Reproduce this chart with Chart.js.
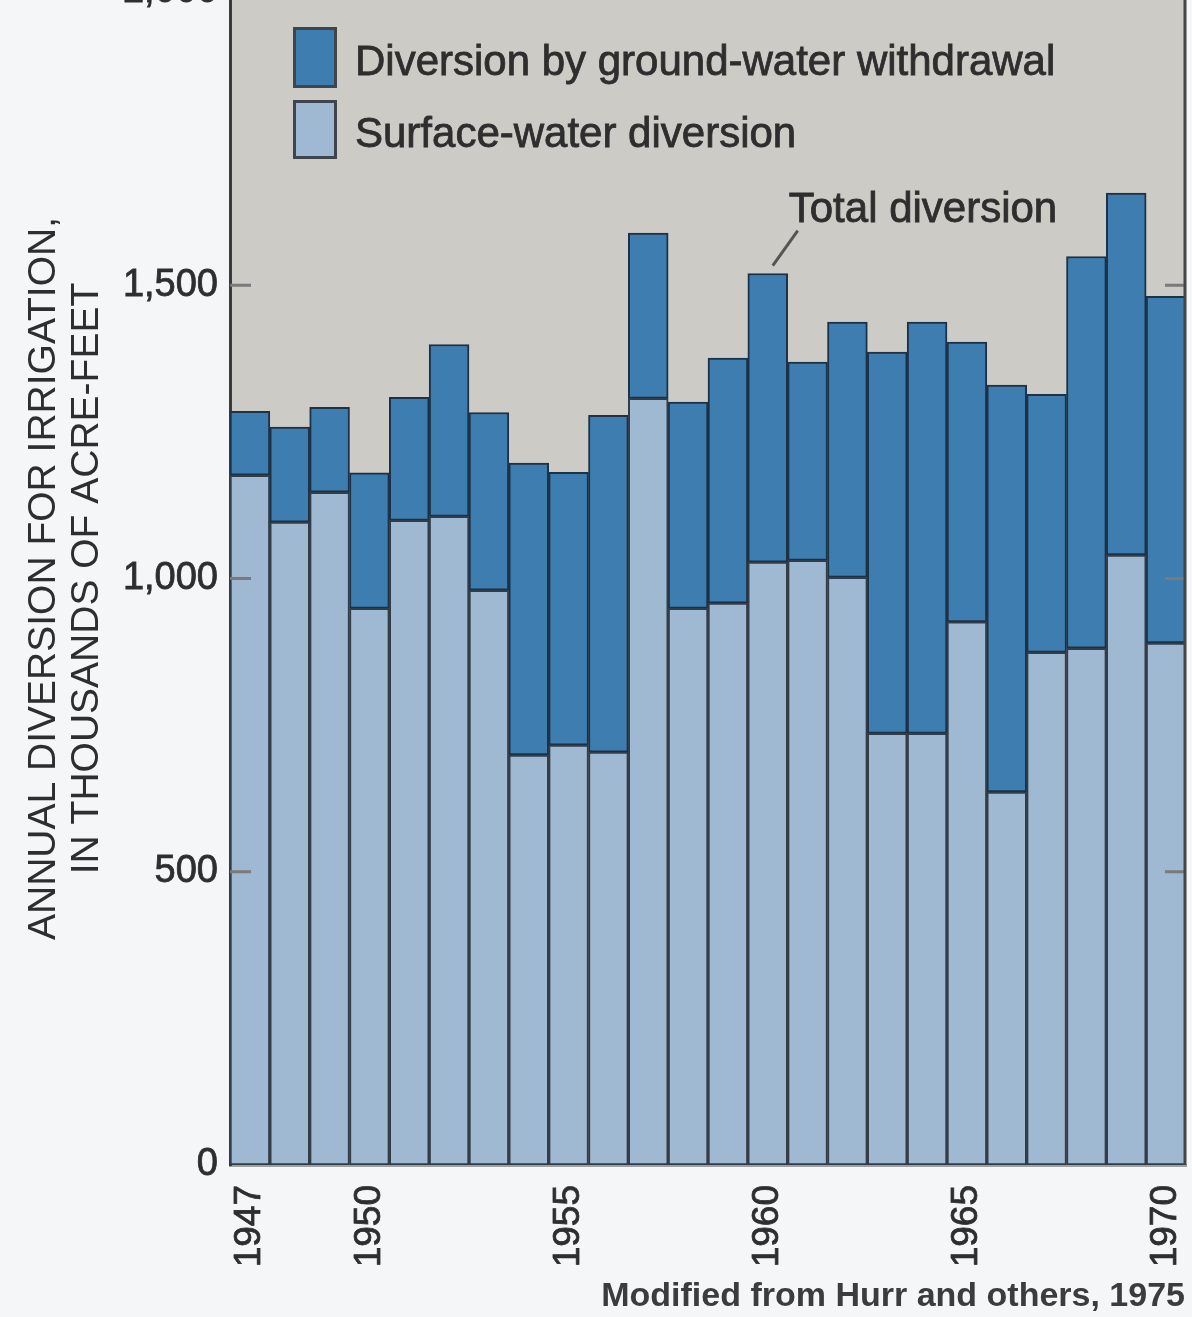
<!DOCTYPE html>
<html>
<head>
<meta charset="utf-8">
<script src="https://cdn.jsdelivr.net/npm/chart.js@4"></script>
<style>
  html, body { margin: 0; padding: 0; background: #f5f6f7; overflow: hidden; }
  #wrap { position: relative; width: 1192px; height: 1317px; overflow: hidden; }
  #wrap canvas { position: absolute; left: 0; top: -30px; }
</style>
</head>
<body>
<div id="wrap"><canvas id="chart" width="1192" height="1347"></canvas></div>
<script>
// Años y desvíos anuales (miles de acre-pies)
const years = [1947, 1948, 1949, 1950, 1951, 1952, 1953, 1954, 1955, 1956, 1957, 1958,
               1959, 1960, 1961, 1962, 1963, 1964, 1965, 1966, 1967, 1968, 1969, 1970];
const surfaceWater = [1176, 1096, 1147, 949, 1099, 1106, 980, 699, 716, 704, 1307, 949,
                      958, 1028, 1031, 1002, 736, 736, 926, 636, 874, 881, 1040, 890];
const groundWater = [109, 162, 145, 231, 210, 293, 303, 498, 465, 574, 282, 352,
                     418, 492, 338, 435, 650, 701, 477, 694, 440, 668, 617, 591];
const labelYears = [1947, 1950, 1955, 1960, 1965, 1970];
const yTicks = [0, 500, 1000, 1500, 2000];

const FONT = '"Liberation Sans", Arial, sans-serif';
const TEXT = '#2e2e2e';
const DARK_BLUE = '#3d7db0';
const LIGHT_BLUE = '#9fb9d2';

// Fondo gris, marcas interiores, leyenda y notas
const plotDecor = {
    id: 'plotDecor',
    beforeDraw(chart) {
        const { ctx, chartArea: a } = chart;
        ctx.save();
        ctx.fillStyle = '#cccbc6';
        ctx.fillRect(a.left, a.top, a.right - a.left, a.bottom - a.top);
        ctx.restore();
    },
    afterDatasetsDraw(chart) {
        const { ctx, chartArea: a, scales } = chart;
        ctx.save();

        // marcas de graduación hacia dentro, ambos lados
        ctx.strokeStyle = '#7a7a7a';
        ctx.lineWidth = 3;
        [500, 1000, 1500].forEach(v => {
            const y = scales.y.getPixelForValue(v);
            ctx.beginPath();
            ctx.moveTo(a.left, y); ctx.lineTo(a.left + 21, y);
            ctx.moveTo(a.right - 21, y); ctx.lineTo(a.right, y);
            ctx.stroke();
        });

        // borde derecho
        ctx.strokeStyle = '#454545';
        ctx.beginPath();
        ctx.moveTo(a.right - 1, a.top);
        ctx.lineTo(a.right - 1, a.bottom);
        ctx.stroke();

        // leyenda
        const items = [
            { label: 'Diversion by ground-water withdrawal', color: DARK_BLUE, y: a.top + 35, h: 61 },
            { label: 'Surface-water diversion', color: LIGHT_BLUE, y: a.top + 108, h: 59 }
        ];
        ctx.font = '42px ' + FONT;
        ctx.textBaseline = 'middle';
        ctx.textAlign = 'left';
        items.forEach(it => {
            ctx.fillStyle = it.color;
            ctx.fillRect(a.left + 63, it.y, 44, it.h);
            ctx.strokeStyle = '#3e454c';
            ctx.lineWidth = 3;
            ctx.strokeRect(a.left + 64.5, it.y + 1.5, 41, it.h - 3);
            ctx.fillStyle = TEXT;
            ctx.strokeStyle = TEXT;
            ctx.lineWidth = 0.8;
            ctx.fillText(it.label, a.left + 125, it.y + it.h / 2 + 6);
            ctx.strokeText(it.label, a.left + 125, it.y + it.h / 2 + 6);
        });

        // "Total diversion" con línea guía hacia 1960
        const idx = years.indexOf(1960);
        const bar = chart.getDatasetMeta(1).data[idx];
        ctx.strokeStyle = '#555';
        ctx.lineWidth = 3;
        ctx.beginPath();
        ctx.moveTo(bar.x + 30, bar.y - 43);
        ctx.lineTo(bar.x + 5, bar.y - 8);
        ctx.stroke();
        ctx.fillStyle = TEXT;
        ctx.strokeStyle = TEXT;
        ctx.lineWidth = 0.8;
        ctx.fillText('Total diversion', bar.x + 21, bar.y - 63);
        ctx.strokeText('Total diversion', bar.x + 21, bar.y - 63);

        ctx.restore();
    },
    afterDraw(chart) {
        const { ctx, chartArea: a } = chart;
        ctx.save();
        ctx.font = 'bold 34px ' + FONT;
        ctx.fillStyle = '#3c3c3c';
        ctx.textAlign = 'right';
        ctx.textBaseline = 'middle';
        ctx.fillText('Modified from Hurr and others, 1975', chart.width - 7, a.bottom + 132);
        ctx.restore();
    }
};

new Chart(document.getElementById('chart'), {
    type: 'bar',
    data: {
        labels: years,
        datasets: [{
            label: 'Surface-water diversion',
            data: surfaceWater,
            backgroundColor: LIGHT_BLUE,
            borderColor: '#333d47',
            borderWidth: 2,
            borderSkipped: false,
            barPercentage: 1,
            categoryPercentage: 1
        }, {
            label: 'Diversion by ground-water withdrawal',
            data: groundWater,
            backgroundColor: DARK_BLUE,
            borderColor: '#1c3248',
            borderWidth: 2,
            borderSkipped: false,
            barPercentage: 1,
            categoryPercentage: 1
        }]
    },
    options: {
        responsive: false,
        animation: false,
        layout: { padding: { top: 22, right: 6, left: 0, bottom: 0 } },
        plugins: {
            legend: { display: false },
            tooltip: { enabled: false }
        },
        scales: {
            x: {
                stacked: true,
                grid: { display: false, drawTicks: false },
                border: { color: '#a0a0a0', width: 3 },
                ticks: {
                    autoSkip: false,
                    minRotation: 90,
                    maxRotation: 90,
                    padding: 20,
                    color: TEXT,
                    textStrokeColor: TEXT,
                    textStrokeWidth: 0.8,
                    font: { family: FONT, size: 37 },
                    callback: function (value, index) {
                        return labelYears.includes(years[index]) ? String(years[index]) : '';
                    }
                },
                afterFit: function (scale) {
                    scale.height = 152;
                    scale.paddingLeft = 0;
                    scale.paddingRight = 0;
                }
            },
            y: {
                stacked: true,
                min: 0,
                max: 2000,
                grid: { display: false, drawTicks: false },
                border: { color: '#3a3a3a', width: 3 },
                afterBuildTicks: function (scale) {
                    scale.ticks = yTicks.map(v => ({ value: v }));
                },
                ticks: {
                    padding: 12,
                    color: TEXT,
                    textStrokeColor: TEXT,
                    textStrokeWidth: 0.8,
                    font: { family: FONT, size: 38 },
                    callback: function (value) {
                        return value.toLocaleString('en-US');
                    }
                },
                title: {
                    display: true,
                    text: ['ANNUAL DIVERSION FOR IRRIGATION,', 'IN THOUSANDS OF ACRE-FEET'],
                    color: TEXT,
                    font: { family: FONT, size: 39, lineHeight: 1.1 },
                    padding: { top: 23, bottom: 0 }
                },
                afterFit: function (scale) {
                    scale.width = 230;
                    scale.paddingTop = 0;
                    scale.paddingBottom = 0;
                }
            }
        }
    },
    plugins: [plotDecor]
});
</script>
</body>
</html>
